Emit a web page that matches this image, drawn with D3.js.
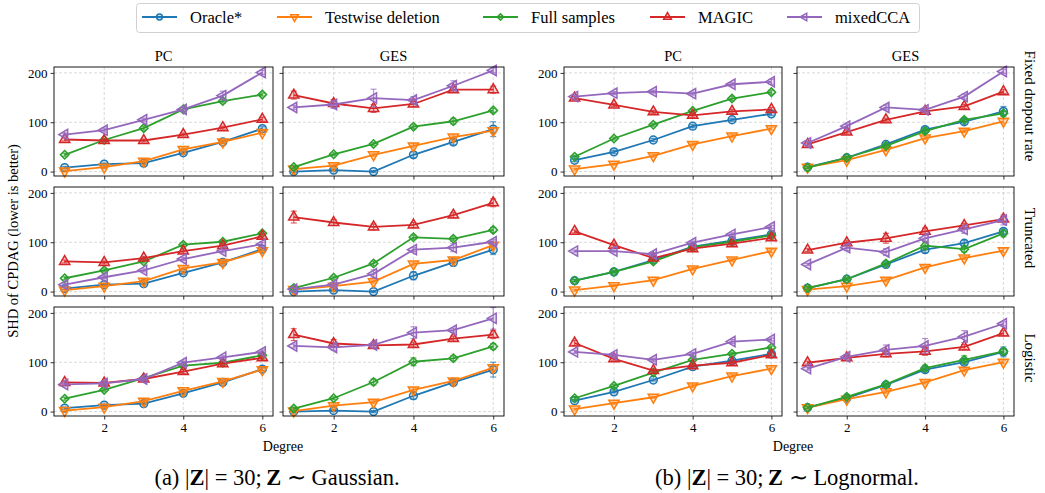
<html>
<head>
<script src="https://cdn.jsdelivr.net/npm/d3@7"></script>
<style>
  body { margin: 0; background: #fff; }
  text { font-family: "Liberation Serif", "Times New Roman", serif; fill: #000; }
</style>
</head>
<body>
<svg width="1045" height="493"></svg>
<script>
// ---- data ----
const degrees = [1, 2, 3, 4, 5, 6];
const methods = ["Oracle*", "Testwise deletion", "Full samples", "MAGIC", "mixedCCA"];
const colors = ["#1f77b4", "#ff7f0e", "#2ca02c", "#d62728", "#9467bd"];
const columns = ["PC", "GES"];
const rowNames = ["Fixed dropout rate", "Truncated", "Logistic"];
const xTicks = [2, 4, 6];
const yTicks = [0, 100, 200];
const captions = ["Gaussian.", "Lognormal."];

// each panel: one array per method, in methods order
const gaussFixedPC = [[8,15,17,38,60,87],[1,9,21,45,60,79],[34,64,88,126,143,156],[65,63,63,75,89,106],[75,84,105,126,154,201]];
const gaussFixedGES = [[0,3,0,34,60,86],[5,12,34,52,70,83],[9,35,56,91,102,124],[155,138,128,137,166,166],[130,136,149,145,174,205]];
const gaussTruncPC = [[6,14,16,38,59,86],[3,11,21,47,59,83],[27,43,61,95,101,118],[61,59,68,82,93,112],[14,29,43,66,82,96]];
const gaussTruncGES = [[0,3,0,32,59,85],[4,11,20,56,64,94],[7,28,57,110,107,125],[151,140,131,135,155,180],[5,14,36,85,89,101]];
const gaussLogisticPC = [[7,13,16,37,59,86],[2,9,21,42,61,85],[26,44,68,93,99,114],[59,58,66,81,97,109],[55,57,66,99,110,121]];
const gaussLogisticGES = [[0,2,0,32,59,85],[1,12,19,44,62,89],[6,27,60,101,108,132],[156,138,134,136,148,156],[133,130,135,160,165,189]];
const lognFixedPC = [[23,40,64,92,105,117],[5,15,32,55,72,87],[30,67,95,123,148,161],[149,135,121,114,122,126],[152,159,162,158,177,182]];
const lognFixedGES = [[9,28,55,85,101,122],[9,23,44,68,82,102],[8,28,52,82,105,118],[55,80,105,122,132,162],[58,92,130,125,152,203]];
const lognTruncPC = [[22,40,64,91,103,116],[3,12,23,46,64,82],[22,40,61,90,101,114],[122,94,68,87,97,109],[82,82,76,99,116,131]];
const lognTruncGES = [[7,25,55,85,98,122],[4,11,23,49,68,83],[7,25,57,93,86,118],[84,99,108,122,134,147],[55,89,80,108,126,145]];
const lognLogisticPC = [[22,40,64,91,103,117],[5,17,29,52,72,87],[27,52,79,105,117,130],[139,107,83,93,99,115],[121,115,105,117,142,146]];
const lognLogisticGES = [[8,27,54,85,100,121],[8,25,40,59,84,100],[8,30,55,88,105,122],[99,109,117,122,131,159],[87,111,125,133,152,178]];

// error bar half-widths
const gaussFixedPCErr = [[2,2,2,3,3,4],[2,2,3,3,3,4],[3,3,4,4,4,3],[3,3,3,3,3,4],[3,4,3,4,9,4]];
const gaussFixedGESErr = [[2,2,2,6,6,15],[2,3,3,4,4,5],[3,3,3,4,6,4],[8,8,8,5,5,7],[4,8,18,7,10,5]];
const gaussTruncPCErr = [[2,2,2,3,3,3],[2,2,3,3,3,3],[3,3,3,4,3,3],[3,3,3,4,4,4],[3,3,3,3,3,4]];
const gaussTruncGESErr = [[2,2,2,8,7,10],[2,3,3,4,4,5],[3,3,5,4,4,5],[12,6,6,5,5,8],[3,4,8,4,8,4]];
const gaussLogisticPCErr = [[2,2,2,3,3,3],[2,2,3,3,3,3],[3,3,3,4,3,3],[3,3,3,4,4,4],[3,3,3,3,3,4]];
const gaussLogisticGESErr = [[2,2,2,7,6,15],[2,3,3,4,4,6],[3,3,6,8,5,6],[12,8,5,5,5,8],[4,6,6,12,4,22]];
const lognFixedPCErr = [[3,3,3,3,3,3],[2,2,3,3,3,3],[3,3,3,3,4,4],[3,3,3,4,4,4],[3,3,3,3,3,5]];
const lognFixedGESErr = [[2,3,3,5,5,10],[2,2,3,3,3,4],[2,3,3,4,4,4],[3,4,3,3,4,4],[3,4,5,3,5,4]];
const lognTruncPCErr = [[2,2,2,3,3,3],[2,2,2,3,3,3],[2,2,3,3,3,3],[3,4,3,3,3,4],[2,2,3,3,3,3]];
const lognTruncGESErr = [[2,2,3,6,6,5],[2,2,3,3,3,4],[3,3,3,8,6,7],[3,4,10,7,4,4],[2,6,7,6,8,10]];
const lognLogisticPCErr = [[2,2,2,3,3,3],[2,2,2,3,3,3],[3,3,3,3,3,3],[5,3,3,3,3,4],[3,3,3,3,4,3]];
const lognLogisticGESErr = [[2,2,3,5,5,10],[2,2,3,3,3,3],[2,3,3,6,8,5],[3,5,6,8,5,5],[3,4,10,15,12,4]];

const panels = [
  { g: 0, r: 0, c: 0, vals: gaussFixedPC, errs: gaussFixedPCErr },
  { g: 0, r: 0, c: 1, vals: gaussFixedGES, errs: gaussFixedGESErr },
  { g: 0, r: 1, c: 0, vals: gaussTruncPC, errs: gaussTruncPCErr },
  { g: 0, r: 1, c: 1, vals: gaussTruncGES, errs: gaussTruncGESErr },
  { g: 0, r: 2, c: 0, vals: gaussLogisticPC, errs: gaussLogisticPCErr },
  { g: 0, r: 2, c: 1, vals: gaussLogisticGES, errs: gaussLogisticGESErr },
  { g: 1, r: 0, c: 0, vals: lognFixedPC, errs: lognFixedPCErr },
  { g: 1, r: 0, c: 1, vals: lognFixedGES, errs: lognFixedGESErr },
  { g: 1, r: 1, c: 0, vals: lognTruncPC, errs: lognTruncPCErr },
  { g: 1, r: 1, c: 1, vals: lognTruncGES, errs: lognTruncGESErr },
  { g: 1, r: 2, c: 0, vals: lognLogisticPC, errs: lognLogisticPCErr },
  { g: 1, r: 2, c: 1, vals: lognLogisticGES, errs: lognLogisticGESErr }
];

// ---- layout ----
const svg = d3.select("svg");
const lefts = [[54, 283], [564, 797]];
const widths = [[219, 221], [218, 217]];
const tops = [67, 187, 307];
const panelH = 109;

const symbolTypes = [d3.symbolCircle, d3.symbolTriangle, d3.symbolSquare, d3.symbolTriangle, d3.symbolTriangle];
const symbolRot = [0, 180, 45, 0, -90];
const symbolSize = [48, 46, 36, 46, 46];

function drawMarker(sel, i, x, y, scale) {
  sel.append("path")
    .attr("d", d3.symbol(symbolTypes[i], symbolSize[i] * scale)())
    .attr("transform", `translate(${x},${y}) rotate(${symbolRot[i]})`)
    .attr("fill", colors[i])
    .attr("fill-opacity", 0.2)
    .attr("stroke", colors[i])
    .attr("stroke-width", 1.5);
}

panels.forEach(p => {
  const x0 = lefts[p.g][p.c], w = widths[p.g][p.c], y0 = tops[p.r];
  const x = d3.scaleLinear().domain([0.73, 6.27]).range([x0, x0 + w]);
  const y = d3.scaleLinear().domain([-9, 212]).range([y0 + panelH, y0]);
  const g = svg.append("g");

  // grid
  g.selectAll(".gx").data(xTicks).join("line")
    .attr("x1", d => x(d)).attr("x2", d => x(d))
    .attr("y1", y0).attr("y2", y0 + panelH)
    .attr("stroke", "#cfcfcf").attr("stroke-width", 0.8).attr("stroke-dasharray", "3,2");
  g.selectAll(".gy").data(yTicks).join("line")
    .attr("x1", x0).attr("x2", x0 + w)
    .attr("y1", d => y(d)).attr("y2", d => y(d))
    .attr("stroke", "#cfcfcf").attr("stroke-width", 0.8).attr("stroke-dasharray", "3,2");

  // axes
  const xAxis = d3.axisBottom(x).tickValues(xTicks).tickSize(3.5).tickPadding(3)
    .tickFormat(p.r === 2 ? d3.format("d") : "");
  const yAxis = d3.axisLeft(y).tickValues(yTicks).tickSize(3.5).tickPadding(3)
    .tickFormat(p.c === 0 ? d3.format("d") : "");
  const xa = g.append("g").attr("transform", `translate(0,${y0 + panelH})`).call(xAxis);
  const ya = g.append("g").attr("transform", `translate(${x0},0)`).call(yAxis);
  [xa, ya].forEach(a => {
    a.attr("font-family", null);
    a.select(".domain").remove();
    a.selectAll("text").attr("font-size", 13);
    a.selectAll("line").attr("stroke", "#000").attr("stroke-width", 0.8);
  });

  // series
  p.vals.forEach((vals, i) => {
    const pts = degrees.map((d, k) => ({ d, v: vals[k], e: p.errs[i][k] }));
    const s = g.append("g");
    pts.forEach(q => {
      s.append("line").attr("x1", x(q.d)).attr("x2", x(q.d))
        .attr("y1", y(q.v - q.e)).attr("y2", y(q.v + q.e))
        .attr("stroke", colors[i]).attr("stroke-opacity", 0.7).attr("stroke-width", 1.2);
      [q.v - q.e, q.v + q.e].forEach(c => s.append("line")
        .attr("x1", x(q.d) - 3).attr("x2", x(q.d) + 3)
        .attr("y1", y(c)).attr("y2", y(c))
        .attr("stroke", colors[i]).attr("stroke-opacity", 0.7).attr("stroke-width", 1.2));
    });
    s.append("path").datum(pts)
      .attr("d", d3.line().x(q => x(q.d)).y(q => y(q.v)))
      .attr("fill", "none").attr("stroke", colors[i]).attr("stroke-width", 1.8);
    pts.forEach(q => drawMarker(s, i, x(q.d), y(q.v), 1));
  });

  // frame
  g.append("rect").attr("x", x0).attr("y", y0).attr("width", w).attr("height", panelH)
    .attr("fill", "none").attr("stroke", "#000").attr("stroke-width", 0.9);

  if (p.r === 0) {
    g.append("text").attr("x", x0 + w / 2).attr("y", 61)
      .attr("text-anchor", "middle").attr("font-size", 14.5).text(columns[p.c]);
  }
});

// row labels on the right
const rowLabelY = [106, 238, 358];
rowNames.forEach((name, r) => {
  svg.append("text")
    .attr("transform", `translate(1030,${rowLabelY[r]}) rotate(90)`)
    .attr("text-anchor", "middle").attr("dominant-baseline", "central")
    .attr("font-size", 15).text(name);
});

// y label
svg.append("text")
  .attr("transform", "translate(13,241) rotate(-90)")
  .attr("text-anchor", "middle").attr("dominant-baseline", "central")
  .attr("font-size", 14.5).text("SHD of CPDAG (lower is better)");

// Degree labels + captions
[0, 1].forEach(gi => {
  const cx = (lefts[gi][0] + lefts[gi][1] + widths[gi][1]) / 2;
  svg.append("text").attr("x", cx + 4).attr("y", 451)
    .attr("text-anchor", "middle").attr("font-size", 14).text("Degree");
  const t = svg.append("text").attr("x", cx - 2).attr("y", 485)
    .attr("text-anchor", "middle").attr("font-size", 22.5);
  t.append("tspan").text(`(${gi === 0 ? "a" : "b"}) |`);
  t.append("tspan").attr("font-weight", "bold").text("Z");
  t.append("tspan").text("| = 30;\u2009");
  t.append("tspan").attr("font-weight", "bold").text("Z");
  t.append("tspan").text(` \u223C ${captions[gi]}`);
});

// legend
const legend = svg.append("g");
legend.append("rect").attr("x", 136.5).attr("y", 3.5).attr("width", 783).attr("height", 29)
  .attr("rx", 3).attr("fill", "#fff").attr("stroke", "#d0d0d0").attr("stroke-width", 1);
const legendX = [142, 277, 483, 650, 787];
methods.forEach((m, i) => {
  const lx = legendX[i];
  legend.append("line").attr("x1", lx).attr("x2", lx + 35).attr("y1", 17).attr("y2", 17)
    .attr("stroke", colors[i]).attr("stroke-width", 2);
  drawMarker(legend, i, lx + 17.5, 17, 0.55);
  legend.append("text").attr("x", lx + 48).attr("y", 23)
    .attr("font-size", 16.5).text(m);
});
</script>
</body>
</html>
